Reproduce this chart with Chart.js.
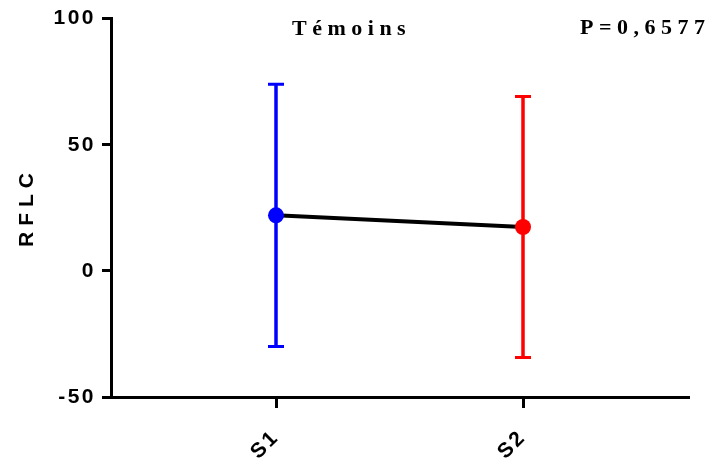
<!DOCTYPE html>
<html><head><meta charset="utf-8">
<script src="https://cdn.jsdelivr.net/npm/chart.js@4"></script>
<style>html,body{margin:0;padding:0;background:#fff}canvas{display:block}</style>
</head><body>
<canvas id="c" width="713" height="459"></canvas>
<script>
const categories = ['S1', 'S2'];
const means = [22.0, 17.4];
const sds = [52.0, 51.7];
const pointColors = ['#0000FF', '#FF0000'];
const yTicks = [-50, 0, 50, 100];
const chartTitle = 'Témoins';
const pValueText = 'P=0,6577';
const yAxisTitle = 'RFLC';

const spacingPlugin = {
  id: 'spacing',
  beforeDraw(chart) { chart.ctx.letterSpacing = '2.5px'; }
};

const errorBars = {
  id: 'errorBars',
  beforeDatasetsDraw(chart) {
    const { ctx, scales: { x, y } } = chart;
    ctx.save();
    means.forEach((m, i) => {
      const px = x.getPixelForValue(i);
      const top = y.getPixelForValue(m + sds[i]);
      const bot = y.getPixelForValue(m - sds[i]);
      ctx.strokeStyle = pointColors[i];
      ctx.lineWidth = 3.5;
      ctx.beginPath();
      ctx.moveTo(px, top); ctx.lineTo(px, bot);
      ctx.stroke();
      ctx.lineWidth = 3;
      ctx.beginPath();
      ctx.moveTo(px - 8, top); ctx.lineTo(px + 8, top);
      ctx.moveTo(px - 8, bot); ctx.lineTo(px + 8, bot);
      ctx.stroke();
    });
    ctx.restore();
  }
};

const texts = {
  id: 'texts',
  afterDraw(chart) {
    const ctx = chart.ctx;
    ctx.save();
    ctx.fillStyle = '#000';
    ctx.textBaseline = 'alphabetic';
    ctx.textAlign = 'left';
    ctx.font = 'bold 22px "Liberation Serif", "Times New Roman", serif';
    ctx.letterSpacing = '5.5px';
    ctx.fillText(chartTitle, 292, 35);
    ctx.fillText(pValueText, 580, 33.5);
    ctx.font = 'bold 21px "Liberation Sans", Arial, sans-serif';
    ctx.letterSpacing = '6px';
    ctx.translate(33, 247);
    ctx.rotate(-Math.PI / 2);
    ctx.fillText(yAxisTitle, 0, 0);
    ctx.restore();
  }
};

const tickFont = { family: '"Liberation Sans", Arial, sans-serif', size: 21, weight: 'bold' };

new Chart(document.getElementById('c'), {
  type: 'line',
  data: {
    datasets: [{
      data: means.map((m, i) => ({ x: i, y: m })),
      borderColor: '#000',
      borderWidth: 4,
      pointRadius: 8,
      pointHoverRadius: 8,
      pointBorderWidth: 0,
      pointBackgroundColor: pointColors,
      pointBorderColor: pointColors,
      tension: 0
    }]
  },
  options: {
    responsive: false,
    animation: false,
    devicePixelRatio: 1,
    layout: { padding: { top: 15, right: 24, left: 0, bottom: 0 } },
    plugins: { legend: { display: false }, tooltip: { enabled: false }, title: { display: false } },
    scales: {
      x: {
        type: 'linear',
        min: -0.668, max: 1.672,
        afterBuildTicks: s => { s.ticks = categories.map((c, i) => ({ value: i })); },
        afterFit: s => { s.height = 62; },
        grid: { drawOnChartArea: false, drawTicks: true, tickLength: 11, tickWidth: 3, color: '#000' },
        border: { display: true, width: 3, color: '#000' },
        ticks: {
          autoSkip: false, minRotation: 45, maxRotation: 45, padding: 17,
          color: '#000', font: tickFont,
          callback: v => categories[v]
        }
      },
      y: {
        min: -50, max: 100,
        afterBuildTicks: s => { s.ticks = yTicks.map(v => ({ value: v })); },
        afterFit: s => { s.width = 111; },
        grid: { drawOnChartArea: false, drawTicks: true, tickLength: 9, tickWidth: 3, color: '#000' },
        border: { display: true, width: 3, color: '#000' },
        ticks: { padding: 6, color: '#000', font: tickFont }
      }
    }
  },
  plugins: [spacingPlugin, errorBars, texts]
});
</script>
</body></html>
